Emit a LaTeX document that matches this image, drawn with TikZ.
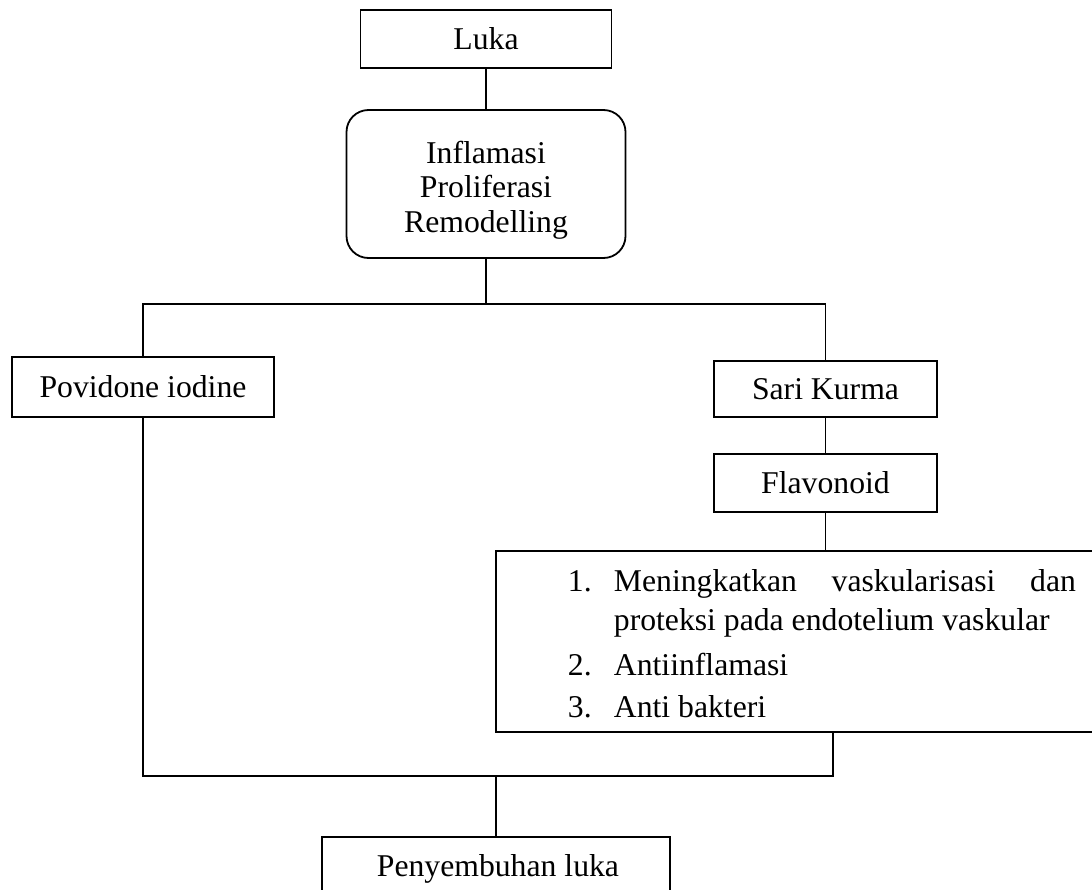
\documentclass[tikz,border=0pt]{standalone}
\usepackage{fontspec}
\setmainfont{Liberation Serif}
\begin{document}
\begin{tikzpicture}[x=1pt,y=-1pt,
  line width=1.8pt,
  txt/.style={font=\fontsize{31.7}{34.5}\selectfont},
  box/.style={txt,draw,rectangle,inner sep=0pt,align=center},
  rbox/.style={box,rounded corners=22pt},
  item/.style={txt,anchor=base west,inner sep=0pt}]
\clip (0,0) rectangle (1092,889);
\fill[white] (0,0) rectangle (1092,889);

\node[box,minimum width=251pt,minimum height=58pt] (luka) at (486,39) {Luka};
\node[rbox,minimum width=279pt,minimum height=148pt] (proc) at (486,184) {};
\node[txt,align=center,inner sep=0pt] (proctxt) at (486,190)
  {Inflamasi\\Proliferasi\\Remodelling};
\node[box,minimum width=262pt,minimum height=60pt] (pov) at (143,387) {Povidone iodine};
\node[box,minimum width=223pt,minimum height=56pt] (sari) at (825.5,389) {Sari Kurma};
\node[box,minimum width=223pt,minimum height=58pt] (flav) at (825.5,483) {Flavonoid};
\node[box,minimum width=674pt,minimum height=181pt] (eff) at (833,641.5) {};
\node[box,minimum width=348pt,minimum height=80pt] (heal) at (496,877) {};
\node[item] (healtxt) at (376,876) {Penyembuhan luka};

\node[item] (n1) at (567,591) {1.};
\node[item] (t1) at (613,591) {\makebox[462pt][s]{Meningkatkan\hfill vaskularisasi\hfill dan}};
\node[item] (t1b) at (613,630) {proteksi pada endotelium vaskular};
\node[item] (n2) at (567,675) {2.};
\node[item] (t2) at (613,675) {Antiinflamasi};
\node[item] (n3) at (567,717) {3.};
\node[item] (t3) at (613,717) {Anti bakteri};

\coordinate (jt) at (486,304);
\coordinate (jb) at (496,776);

\draw (luka.south) -- (proc.north);
\draw (proc.south) -- (jt);
\draw (pov.north) -- (pov.north |- jt) -- (sari.north |- jt) -- (sari.north);
\draw (sari.south) -- (flav.north);
\draw (flav.south) -- (flav.south |- eff.north);
\draw (pov.south) -- (pov.south |- jb) -- (eff.south |- jb) -- (eff.south);
\draw (jb) -- (heal.north);
\end{tikzpicture}
\end{document}
